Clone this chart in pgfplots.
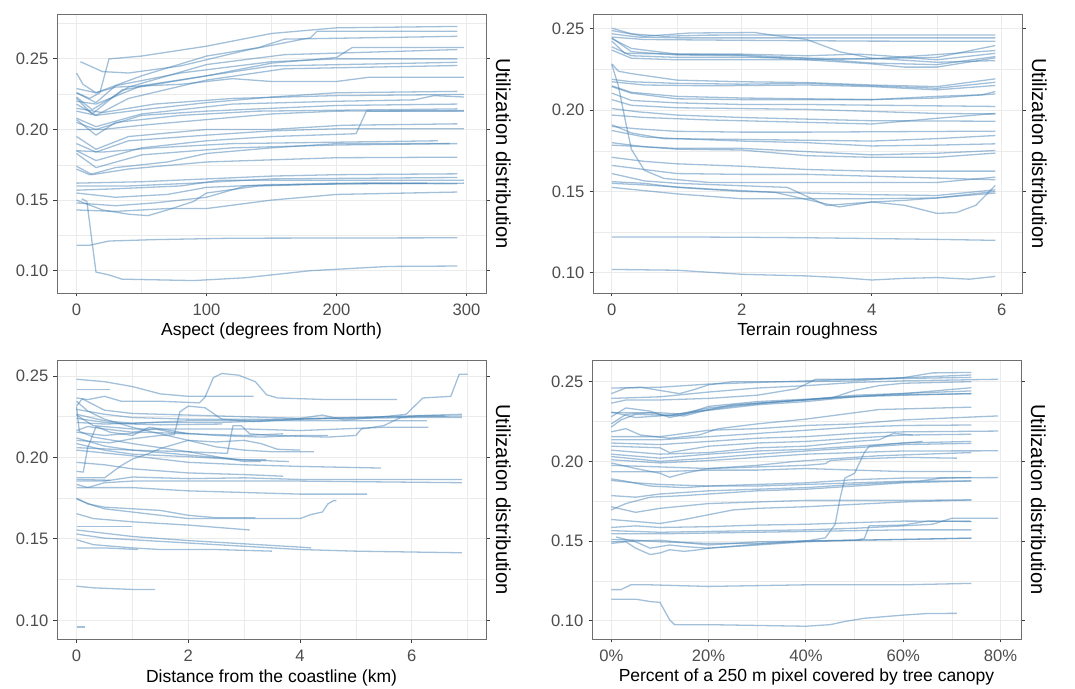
\documentclass[border=0pt]{standalone}
\usepackage{pgfplots}
\pgfplotsset{compat=1.18}
\usepackage{fontspec}
\setmainfont{Liberation Sans}
\definecolor{steel}{RGB}{70,130,180}
\definecolor{gtwenty}{RGB}{60,60,60}
\definecolor{gborder}{RGB}{110,110,110}
\definecolor{gthirty}{RGB}{77,77,77}
\definecolor{gridg}{RGB}{235,235,235}
\tikzset{ln/.style={draw=steel,line width=1.3bp,draw opacity=0.5,mark=none,line join=round}}
\pgfplotsset{panel/.style={
  scale only axis, width=429bp, height=279bp, anchor=south west,
  axis line style={draw=gborder,line width=0.9bp},
  grid=both,
  major grid style={draw=gridg,line width=0.9bp},
  minor grid style={draw=gridg,line width=0.45bp},
  tick align=outside, xtick pos=bottom, ytick pos=both,
  yticklabel pos=left,
  major tick length=3.5bp, minor tick length=0pt,
  tick style={draw=gtwenty,line width=0.9bp},
  ytick={0.10,0.15,0.20,0.25},
  yticklabels={0.10,0.15,0.20,0.25},
  ticklabel style={font=\fontsize{16.6bp}{19bp}\selectfont, text=gthirty, inner sep=0pt},
  xticklabel style={anchor=north},
  yticklabel style={anchor=east},
  xticklabel shift=7.5bp, yticklabel shift=5bp,
  every axis x label/.style={at={(axis description cs:0.5,0)}, anchor=base, yshift=-43bp, inner sep=0pt, font=\fontsize{17.5bp}{20bp}\selectfont},
  every axis y label/.style={at={(axis description cs:1,0.5)}, xshift=10bp, rotate=-90, anchor=base, inner sep=0pt, font=\fontsize{20.2bp}{23bp}\selectfont},
  ylabel={Utilization distribution},
}}
\begin{document}
\begin{tikzpicture}
\useasboundingbox (0,0) rectangle (1075bp,689bp);
% ---------------- Panel 1: Aspect
\begin{axis}[panel, at={(57bp,396bp)},
  xmin=-15, xmax=315, ymin=0.0842, ymax=0.2818,
  xtick={0,100,200,300}, xticklabels={0,100,200,300},
  minor xtick={50,150,250}, minor ytick={0.125,0.175,0.225,0.275},
  xlabel={Aspect (degrees from North)}]
\addplot[ln] coordinates {(0,0.226)(10,0.222)(18,0.226)(25,0.250)(50,0.252)(100,0.259)(150,0.268)(200,0.272)(293,0.273)};
\addplot[ln] coordinates {(3,0.248)(20,0.241)(40,0.240)(80,0.245)(130,0.256)(180,0.265)(185,0.2696)(293,0.2696)};
\addplot[ln] coordinates {(0,0.229)(15,0.226)(50,0.238)(100,0.252)(140,0.258)(160,0.264)(293,0.266)};
\addplot[ln] coordinates {(0,0.220)(15,0.218)(50,0.231)(100,0.238)(150,0.247)(200,0.251)(212,0.258)(298,0.258)};
\addplot[ln] coordinates {(0,0.223)(12,0.214)(40,0.230)(100,0.246)(160,0.253)(293,0.2566)};
\addplot[ln] coordinates {(0,0.226)(15,0.219)(30,0.231)(80,0.240)(150,0.248)(200,0.250)(293,0.250)};
\addplot[ln] coordinates {(0,0.222)(12,0.211)(35,0.228)(100,0.238)(150,0.245)(293,0.2476)};
\addplot[ln] coordinates {(0,0.218)(15,0.210)(40,0.222)(100,0.235)(160,0.243)(293,0.2453)};
\addplot[ln] coordinates {(0,0.240)(5,0.232)(15,0.226)(30,0.230)(80,0.232)(120,0.236)(150,0.234)(200,0.234)(225,0.237)(298,0.237)};
\addplot[ln] coordinates {(0,0.213)(15,0.210)(50,0.214)(100,0.219)(150,0.223)(200,0.226)(293,0.227)};
\addplot[ln] coordinates {(0,0.215)(20,0.212)(60,0.218)(120,0.222)(200,0.224)(298,0.2248)};
\addplot[ln] coordinates {(0,0.208)(15,0.202)(50,0.211)(120,0.218)(200,0.220)(260,0.221)(275,0.224)(298,0.223)};
\addplot[ln] coordinates {(0,0.205)(15,0.200)(50,0.210)(100,0.213)(200,0.217)(293,0.218)};
\addplot[ln] coordinates {(0,0.207)(15,0.196)(30,0.205)(80,0.210)(140,0.213)(293,0.2146)};
\addplot[ln] coordinates {(0,0.200)(20,0.200)(50,0.203)(100,0.207)(150,0.211)(200,0.213)(298,0.2134)};
\addplot[ln] coordinates {(0,0.195)(15,0.186)(40,0.195)(100,0.200)(150,0.200)(205,0.203)(293,0.204)};
\addplot[ln] coordinates {(0,0.190)(15,0.184)(40,0.192)(100,0.196)(150,0.199)(200,0.2005)(298,0.2005)};
\addplot[ln] coordinates {(0,0.185)(15,0.178)(50,0.187)(100,0.192)(150,0.195)(215,0.197)(223,0.213)(298,0.213)};
\addplot[ln] coordinates {(0,0.185)(20,0.184)(60,0.187)(120,0.190)(200,0.191)(278,0.192)};
\addplot[ln] coordinates {(0,0.183)(15,0.173)(50,0.182)(120,0.187)(200,0.189)(287,0.190)};
\addplot[ln] coordinates {(0,0.174)(12,0.168)(40,0.172)(100,0.177)(200,0.180)(293,0.1804)};
\addplot[ln] coordinates {(0,0.172)(10,0.168)(30,0.173)(70,0.177)(100,0.183)(150,0.187)(200,0.190)(293,0.190)};
\addplot[ln] coordinates {(0,0.162)(50,0.163)(100,0.165)(150,0.167)(200,0.168)(293,0.1686)};
\addplot[ln] coordinates {(0,0.160)(40,0.160)(90,0.162)(150,0.165)(293,0.166)};
\addplot[ln] coordinates {(0,0.157)(30,0.158)(80,0.160)(110,0.164)(200,0.164)(298,0.164)};
\addplot[ln] coordinates {(0,0.155)(30,0.152)(70,0.154)(100,0.159)(150,0.161)(298,0.162)};
\addplot[ln] coordinates {(0,0.148)(30,0.146)(60,0.148)(100,0.152)(130,0.160)(200,0.162)(293,0.1616)};
\addplot[ln] coordinates {(0,0.150)(20,0.143)(40,0.140)(55,0.139)(70,0.143)(90,0.149)(100,0.155)(140,0.160)(220,0.162)(270,0.162)};
\addplot[ln] coordinates {(0,0.143)(30,0.142)(70,0.144)(100,0.144)(150,0.150)(200,0.154)(293,0.1557)};
\addplot[ln] coordinates {(0,0.118)(10,0.118)(25,0.121)(60,0.122)(120,0.123)(293,0.1233)};
\addplot[ln] coordinates {(4,0.151)(8,0.149)(12,0.120)(15,0.099)(25,0.097)(35,0.094)(90,0.093)(130,0.095)(180,0.100)(240,0.103)(293,0.1033)};
\end{axis}
% ---------------- Panel 2: Terrain roughness
\begin{axis}[panel, at={(593bp,396bp)},
  xmin=-0.29, xmax=6.31, ymin=0.0875, ymax=0.2592,
  xtick={0,2,4,6}, xticklabels={0,2,4,6},
  minor xtick={1,3,5}, minor ytick={0.125,0.175,0.225},
  xlabel={Terrain roughness}]
\addplot[ln] coordinates {(0,0.2505)(0.3,0.247)(0.8,0.2455)(1.5,0.2462)(3,0.2463)(5.9,0.2463)};
\addplot[ln] coordinates {(0,0.249)(0.5,0.2455)(1.2,0.2475)(2.2,0.2478)(2.5,0.246)(3,0.2435)(3.5,0.236)(4,0.232)(5,0.2295)(5.9,0.2305)};
\addplot[ln] coordinates {(0,0.247)(0.4,0.245)(1,0.2445)(2,0.2445)(4,0.2445)(5.9,0.2445)};
\addplot[ln] coordinates {(0,0.245)(0.5,0.2435)(2,0.243)(4,0.2425)(5.9,0.2424)};
\addplot[ln] coordinates {(0,0.2445)(0.3,0.236)(1,0.234)(2,0.2335)(3,0.231)(4,0.2285)(4.5,0.2265)(5,0.2265)(5.9,0.2322)};
\addplot[ln] coordinates {(0,0.244)(0.3,0.238)(1,0.2345)(2,0.234)(3,0.232)(4,0.229)(5,0.228)(5.9,0.233)};
\addplot[ln] coordinates {(0,0.2425)(0.2,0.235)(1,0.2345)(2,0.2345)(3,0.2335)(3.8,0.2345)(4.2,0.2335)(5,0.231)(5.9,0.235)};
\addplot[ln] coordinates {(0,0.239)(0.3,0.2335)(1,0.2325)(2,0.2325)(4,0.2315)(5.9,0.2367)};
\addplot[ln] coordinates {(0,0.237)(0.3,0.232)(1,0.231)(3,0.231)(5,0.2325)(5.9,0.2398)};
\addplot[ln] coordinates {(0,0.2285)(0.1,0.224)(0.3,0.2225)(1,0.2185)(2,0.2175)(3,0.217)(4,0.2155)(5,0.2145)(5.9,0.2193)};
\addplot[ln] coordinates {(0,0.219)(0.3,0.2175)(1,0.2165)(2,0.216)(3,0.2165)(4,0.215)(5,0.2135)(5.9,0.2172)};
\addplot[ln] coordinates {(0,0.2175)(0.5,0.2155)(1.5,0.215)(3,0.2155)(4,0.2145)(5,0.2125)(5.9,0.2152)};
\addplot[ln] coordinates {(0,0.215)(0.3,0.211)(1,0.2085)(2,0.2075)(3,0.207)(4,0.2065)(5,0.2075)(5.9,0.210)};
\addplot[ln] coordinates {(0,0.2145)(0.3,0.2105)(1,0.207)(2,0.2065)(3,0.2065)(4,0.2065)(5,0.2085)(5.7,0.2095)(5.9,0.2115)};
\addplot[ln] coordinates {(0,0.2105)(0.3,0.206)(1,0.2045)(2,0.2035)(3,0.2035)(5.9,0.2023)};
\addplot[ln] coordinates {(0,0.2065)(0.3,0.203)(1,0.2015)(3,0.2005)(5,0.198)(5.9,0.1977)};
\addplot[ln] coordinates {(0,0.201)(0.4,0.199)(1,0.197)(2,0.1955)(3,0.1945)(4,0.1935)(5.9,0.1932)};
\addplot[ln] coordinates {(0,0.197)(0.5,0.1955)(1.5,0.194)(3,0.1925)(4,0.1915)(5,0.195)(5.9,0.198)};
\addplot[ln] coordinates {(0,0.190)(0.4,0.1885)(1,0.187)(2,0.1865)(3,0.1865)(5.9,0.1871)};
\addplot[ln] coordinates {(0,0.191)(0.3,0.186)(0.8,0.1825)(2,0.182)(3,0.1815)(4,0.181)(5,0.1825)(5.9,0.1844)};
\addplot[ln] coordinates {(0,0.1875)(0.5,0.1835)(1,0.1825)(2,0.181)(3,0.18)(4,0.178)(5,0.1785)(5.9,0.1793)};
\addplot[ln] coordinates {(0,0.1785)(0.5,0.1775)(1,0.1765)(2,0.1765)(3,0.1745)(4,0.1725)(5,0.1735)(5.9,0.1752)};
\addplot[ln] coordinates {(0,0.180)(0.5,0.1775)(1,0.176)(2,0.1755)(3,0.172)(4,0.171)(5,0.171)(5.9,0.1736)};
\addplot[ln] coordinates {(0,0.228)(0.1,0.215)(0.2,0.195)(0.3,0.176)(0.5,0.163)(0.8,0.158)(1.5,0.1555)(3,0.1555)(4,0.1555)(5,0.1555)(5.9,0.1588)};
\addplot[ln] coordinates {(0,0.171)(0.5,0.1685)(1,0.167)(2,0.1655)(3,0.1635)(4,0.1625)(5.9,0.1625)};
\addplot[ln] coordinates {(0,0.166)(0.5,0.1635)(1,0.161)(2,0.1605)(3,0.1605)(5.9,0.1572)};
\addplot[ln] coordinates {(0,0.161)(0.5,0.1565)(1,0.155)(2,0.1535)(2.7,0.1525)(3.3,0.1414)(4,0.1435)(4.5,0.1415)(5,0.1365)(5.3,0.137)(5.6,0.1415)(5.9,0.1537)};
\addplot[ln] coordinates {(0,0.156)(0.5,0.155)(1,0.1525)(2,0.150)(3,0.149)(4,0.148)(5,0.1475)(5.9,0.151)};
\addplot[ln] coordinates {(0,0.1525)(0.5,0.1505)(1,0.1485)(2,0.1455)(3,0.1455)(4,0.1455)(5,0.146)(5.9,0.149)};
\addplot[ln] coordinates {(0,0.155)(0.5,0.154)(1.5,0.1515)(2.5,0.1495)(3.5,0.1405)(4,0.1435)(4.5,0.1445)(5,0.146)(5.9,0.150)};
\addplot[ln] coordinates {(0,0.122)(1,0.122)(2,0.1218)(3,0.1215)(4,0.121)(5,0.1205)(5.9,0.1199)};
\addplot[ln] coordinates {(0,0.102)(1,0.1015)(2,0.099)(3,0.098)(3.5,0.097)(4,0.0955)(4.5,0.0965)(5,0.097)(5.5,0.096)(5.9,0.0977)};
\end{axis}
% ---------------- Panel 3: Distance from coastline
\begin{axis}[panel, at={(57bp,50bp)},
  xmin=-0.35, xmax=7.33, ymin=0.0886, ymax=0.2598,
  xtick={0,2,4,6}, xticklabels={0,2,4,6},
  minor xtick={1,3,5,7}, minor ytick={0.125,0.175,0.225},
  xlabel={Distance from the coastline (km)}]
\addplot[ln] coordinates {(0,0.248)(0.5,0.2465)(1,0.2435)(1.5,0.239)(2,0.2375)(3.17,0.2375)};
\addplot[ln] coordinates {(0,0.2415)(0.6,0.2415)};
\addplot[ln] coordinates {(0,0.2365)(0.2,0.2355)(0.5,0.2375)(0.8,0.2345)(1.5,0.2345)(2.2,0.2335)(2.3,0.237)(2.45,0.249)(2.6,0.2515)(2.9,0.2505)(3.2,0.2465)(3.4,0.2385)(3.6,0.2365)(4.5,0.2355)(5.74,0.2355)};
\addplot[ln] coordinates {(0,0.2315)(0.1,0.236)(0.5,0.229)(1,0.227)(2,0.226)(3,0.225)(4,0.224)(4.4,0.226)(4.8,0.223)(5.5,0.225)(5.9,0.2265)(6.2,0.2365)(6.7,0.2375)(6.85,0.251)(7.0,0.251)};
\addplot[ln] coordinates {(0,0.2295)(0.5,0.2265)(1,0.2245)(2,0.2235)(3.5,0.2235)(5,0.2245)(6.9,0.2255)};
\addplot[ln] coordinates {(0,0.2265)(0.5,0.2225)(1,0.221)(2,0.2225)(3,0.2225)(4,0.2235)(6.9,0.2265)};
\addplot[ln] coordinates {(0,0.224)(0.5,0.2215)(1,0.2205)(1.5,0.22)(2.6,0.2205)};
\addplot[ln] coordinates {(0,0.2215)(0.5,0.2205)(1.5,0.2215)(2.6,0.2215)(3.5,0.2225)(4.5,0.2225)(6.27,0.2225)};
\addplot[ln] coordinates {(0,0.226)(0.3,0.2195)(1,0.2175)(2,0.2175)(3,0.2175)(4,0.2165)(5.5,0.2185)(6.3,0.2185)};
\addplot[ln] coordinates {(0,0.2165)(0.2,0.219)(0.5,0.2175)(1,0.2155)(1.4,0.2175)(1.7,0.2155)(2.5,0.2135)(3.3,0.2125)(4,0.2135)(4.5,0.2135)};
\addplot[ln] coordinates {(0,0.2155)(0.5,0.2135)(1.2,0.2155)(2,0.2145)(3,0.2135)(3.7,0.2145)};
\addplot[ln] coordinates {(0,0.2105)(0.6,0.209)(1.0,0.2115)(1.5,0.2135)(1.75,0.214)(1.85,0.228)(2.0,0.2315)(2.3,0.2305)(2.6,0.2235)(3.2,0.222)(4,0.2235)(6.0,0.2245)(6.9,0.2245)};
\addplot[ln] coordinates {(0,0.206)(1,0.2045)(2,0.2035)(2.7,0.2025)(2.8,0.2195)(2.95,0.2195)(3.1,0.2145)(3.5,0.2135)(4.5,0.2125)(5,0.2135)(5.1,0.2175)(5.5,0.2195)(5.8,0.2245)(6.1,0.2255)(6.6,0.2255)};
\addplot[ln] coordinates {(0,0.2345)(0.2,0.2285)(0.5,0.2235)(1,0.2185)(1.5,0.2145)(2,0.2105)(2.5,0.2065)(3,0.2045)(3.5,0.2035)(4.25,0.2035)};
\addplot[ln] coordinates {(0,0.231)(0.05,0.216)(0.3,0.2125)(1,0.2085)(2,0.2035)(2.5,0.2005)(3,0.1975)(3.3,0.1975)};
\addplot[ln] coordinates {(0,0.212)(0.5,0.207)(1,0.2045)(2,0.2015)(3,0.1985)(3.4,0.1985)};
\addplot[ln] coordinates {(0,0.2085)(0.5,0.2045)(1,0.202)(2,0.2005)(3,0.1985)(3.8,0.1975)};
\addplot[ln] coordinates {(0,0.2045)(1,0.201)(2,0.197)(3,0.1955)(4,0.1945)(5.45,0.1935)};
\addplot[ln] coordinates {(0,0.197)(0.5,0.1955)(1,0.193)(2,0.1905)(3,0.1895)(3.7,0.1885)};
\addplot[ln] coordinates {(0,0.1915)(0.12,0.191)(0.2,0.206)(0.35,0.219)(0.6,0.2155)(1.0,0.2135)(1.3,0.2185)(1.7,0.2165)(2.0,0.2145)};
\addplot[ln] coordinates {(0,0.1875)(0.5,0.1875)(0.8,0.195)(1.0,0.199)(1.3,0.2025)(1.5,0.2055)(2,0.2105)(2.5,0.2095)(3.0,0.2105)(3.3,0.2085)(3.6,0.205)(4.0,0.2045)};
\addplot[ln] coordinates {(0,0.1865)(0.6,0.186)};
\addplot[ln] coordinates {(0,0.1855)(0.5,0.1855)(1,0.188)(2,0.187)(3,0.1875)(4,0.1865)(5,0.1865)(6.9,0.1865)};
\addplot[ln] coordinates {(0,0.1835)(0.2,0.1815)(0.5,0.1845)(1,0.1855)(2,0.1855)(3,0.1855)(4,0.1855)(6.9,0.1845)};
\addplot[ln] coordinates {(0,0.1815)(0.5,0.1815)(1,0.1815)(2,0.1795)(3,0.1785)(4,0.1775)(5.2,0.1775)};
\addplot[ln] coordinates {(0,0.175)(0.2,0.1715)(0.5,0.1695)(1,0.1685)(1.5,0.1675)(2,0.1645)(2.5,0.163)(3.2,0.163)};
\addplot[ln] coordinates {(0,0.1745)(0.3,0.1705)(0.5,0.1685)(1,0.1665)(1.5,0.1645)(2,0.1625)(3,0.1625)(4,0.1625)(4.2,0.165)(4.4,0.1665)(4.5,0.1715)(4.6,0.1735)(4.65,0.1735)};
\addplot[ln] coordinates {(0,0.1655)(0.3,0.1625)(1,0.1605)(2,0.1585)(3.1,0.1555)};
\addplot[ln] coordinates {(0,0.1575)(0.5,0.1575)(1,0.1575)};
\addplot[ln] coordinates {(0,0.1555)(0.5,0.1535)(1,0.1515)(2,0.149)(3,0.147)(4,0.145)(4.2,0.1445)};
\addplot[ln] coordinates {(0,0.153)(0.5,0.1505)(1,0.1495)(2,0.1475)(3,0.1455)(4,0.1435)(5,0.1425)(6.9,0.1415)};
\addplot[ln] coordinates {(0,0.1495)(0.3,0.1465)(1,0.1445)(1.5,0.1435)(2.5,0.1435)(3.5,0.1425)};
\addplot[ln] coordinates {(0,0.1445)(0.5,0.1445)(1.1,0.1435)};
\addplot[ln] coordinates {(0,0.121)(0.3,0.120)(1,0.119)(1.4,0.119)};
\addplot[ln] coordinates {(0,0.096)(0.15,0.096)};
\end{axis}
% ---------------- Panel 4: Tree canopy
\begin{axis}[panel, at={(592bp,50bp)},
  xmin=-3.96, xmax=84.2, ymin=0.0885, ymax=0.2636,
  xtick={0,20,40,60,80}, xticklabels={0\%,20\%,40\%,60\%,80\%},
  minor xtick={10,30,50,70}, minor ytick={0.125,0.175,0.225},
  xlabel={Percent of a 250 m pixel covered by tree canopy}]
\addplot[ln] coordinates {(0,0.2425)(3,0.246)(6,0.2465)(10,0.2445)(14,0.2425)(17,0.245)(20,0.248)(25,0.250)(30,0.250)(40,0.250)(50,0.2505)(60,0.2525)(66,0.2555)(74,0.2558)};
\addplot[ln] coordinates {(0,0.246)(10,0.2465)(20,0.2485)(30,0.2495)(40,0.2505)(50,0.2515)(60,0.2525)(74,0.2542)};
\addplot[ln] coordinates {(0,0.2365)(3,0.2385)(10,0.2385)(20,0.2395)(30,0.2415)(38,0.2455)(42,0.2515)(50,0.2515)(60,0.252)(74,0.2527)};
\addplot[ln] coordinates {(0,0.2395)(10,0.2405)(20,0.2435)(30,0.246)(40,0.2475)(50,0.2495)(60,0.2505)(79.5,0.2515)};
\addplot[ln] coordinates {(0,0.2215)(2,0.226)(5,0.2295)(10,0.229)(15,0.2285)(20,0.2325)(25,0.2355)(35,0.2375)(45,0.2395)(50,0.2445)(55,0.2475)(60,0.249)(74,0.250)};
\addplot[ln] coordinates {(0,0.228)(3,0.2335)(8,0.2315)(12,0.2275)(18,0.2315)(25,0.2345)(35,0.2375)(45,0.240)(55,0.2415)(74,0.2425)};
\addplot[ln] coordinates {(0,0.2235)(3,0.2295)(8,0.2305)(12,0.2285)(20,0.2335)(30,0.2365)(40,0.2385)(50,0.2415)(74,0.2442)};
\addplot[ln] coordinates {(0,0.2305)(5,0.2305)(10,0.2305)(15,0.2295)(20,0.2345)(30,0.2375)(40,0.239)(50,0.2405)(60,0.2425)(74,0.2462)};
\addplot[ln] coordinates {(0,0.231)(5,0.2275)(10,0.2285)(20,0.232)(30,0.2355)(40,0.2375)(50,0.2405)(60,0.2415)(74,0.2425)};
\addplot[ln] coordinates {(0,0.2185)(3,0.2205)(6,0.2165)(12,0.2145)(18,0.2165)(22,0.2205)(30,0.2235)(40,0.2265)(50,0.2305)(55,0.2325)(74,0.234)};
\addplot[ln] coordinates {(0,0.2155)(10,0.2155)(20,0.2195)(30,0.2205)(40,0.2225)(50,0.2235)(60,0.226)(79.5,0.2285)};
\addplot[ln] coordinates {(0,0.2135)(10,0.2135)(20,0.2155)(30,0.2175)(40,0.2195)(50,0.2215)(60,0.2225)(74,0.2228)};
\addplot[ln] coordinates {(0,0.2115)(10,0.2105)(20,0.2125)(30,0.2145)(40,0.2155)(50,0.2175)(60,0.2185)(79.5,0.219)};
\addplot[ln] coordinates {(0,0.2095)(10,0.2085)(12,0.2055)(20,0.2095)(30,0.2115)(40,0.2125)(50,0.2145)(60,0.2165)(74,0.217)};
\addplot[ln] coordinates {(0,0.207)(10,0.2045)(20,0.2055)(30,0.2085)(40,0.2095)(50,0.2125)(55,0.2135)(58,0.2175)(62,0.2165)};
\addplot[ln] coordinates {(0,0.2045)(10,0.202)(20,0.2045)(30,0.2065)(40,0.2075)(50,0.2095)(60,0.2115)(74,0.2125)};
\addplot[ln] coordinates {(0,0.203)(10,0.200)(20,0.202)(30,0.2045)(40,0.2065)(50,0.2085)(60,0.2105)(74,0.2113)};
\addplot[ln] coordinates {(0,0.201)(10,0.199)(20,0.2005)(30,0.2025)(40,0.2045)(50,0.2055)(60,0.2065)(79.5,0.2066)};
\addplot[ln] coordinates {(0,0.199)(5,0.1955)(10,0.1925)(12,0.190)(15,0.1925)(20,0.1955)(30,0.1975)(38,0.200)(45,0.2015)(55,0.2035)(74,0.2055)};
\addplot[ln] coordinates {(0,0.1975)(10,0.1965)(20,0.1955)(30,0.1965)(40,0.1975)(44,0.1985)(45,0.2005)(50,0.2015)(60,0.2025)(71,0.202)};
\addplot[ln] coordinates {(0,0.1935)(10,0.1935)(20,0.1945)(30,0.1945)(40,0.1955)(50,0.1945)(60,0.1936)(74,0.1936)};
\addplot[ln] coordinates {(0,0.189)(3,0.1875)(8,0.1845)(15,0.1835)(20,0.1845)(30,0.1855)(40,0.1865)(50,0.1885)(60,0.1895)(79.5,0.1898)};
\addplot[ln] coordinates {(0,0.188)(5,0.1865)(10,0.1855)(20,0.1845)(30,0.1845)(40,0.1855)(50,0.1865)(60,0.1875)(74,0.1877)};
\addplot[ln] coordinates {(0,0.1785)(5,0.1775)(10,0.1795)(20,0.1815)(30,0.1825)(40,0.1835)(50,0.1855)(63,0.1875)(68,0.1895)(74,0.1898)};
\addplot[ln] coordinates {(0,0.1695)(3,0.1735)(8,0.1775)(15,0.1785)(20,0.1795)(30,0.1815)(40,0.1825)(50,0.1845)(60,0.1865)(74,0.1877)};
\addplot[ln] coordinates {(0,0.1715)(5,0.168)(10,0.1705)(20,0.1735)(30,0.1745)(40,0.1755)(60,0.1755)(74,0.1758)};
\addplot[ln] coordinates {(0,0.1635)(10,0.161)(15,0.1635)(20,0.1665)(25,0.1695)(30,0.1705)(40,0.1715)(60,0.1745)(74,0.1758)};
\addplot[ln] coordinates {(0,0.1585)(5,0.1595)(10,0.1585)(20,0.159)(30,0.160)(40,0.1605)(50,0.1615)(60,0.1625)(74,0.1623)};
\addplot[ln] coordinates {(0,0.1565)(10,0.1555)(20,0.156)(30,0.1565)(40,0.157)(50,0.158)(60,0.1595)(66,0.1605)(70,0.1643)(79.5,0.1643)};
\addplot[ln] coordinates {(0,0.1545)(10,0.1545)(20,0.155)(30,0.1555)(40,0.156)(60,0.157)(74,0.157)};
\addplot[ln] coordinates {(0,0.151)(5,0.1505)(10,0.1495)(20,0.1485)(30,0.1485)(40,0.150)(44,0.152)(46,0.1605)(47,0.1765)(48,0.1895)(50,0.1925)(52,0.2055)(53,0.2095)(56,0.2105)(60,0.2115)(64,0.2125)};
\addplot[ln] coordinates {(0,0.1495)(5,0.150)(10,0.1505)(20,0.1475)(30,0.1495)(40,0.150)(50,0.1505)(52,0.1515)(53,0.1595)(60,0.160)(65,0.1625)(74,0.1623)};
\addplot[ln] coordinates {(0,0.1485)(3,0.1495)(5,0.1455)(8,0.1415)(10,0.1425)(12,0.1445)(15,0.1435)(18,0.1445)(20,0.1455)(30,0.1475)(40,0.1495)(50,0.1505)(60,0.151)(74,0.1518)};
\addplot[ln] coordinates {(1,0.1525)(5,0.1495)(8,0.1455)(12,0.1475)(15,0.1465)(20,0.1455)(30,0.148)(40,0.150)(60,0.151)(74,0.1518)};
\addplot[ln] coordinates {(0,0.1195)(2,0.1195)(4,0.1225)(8,0.1225)(20,0.1215)(40,0.1225)(60,0.1225)(74,0.1234)};
\addplot[ln] coordinates {(0,0.1135)(5,0.1135)(8,0.112)(10,0.1115)(11,0.106)(12,0.1005)(13,0.0975)(20,0.0975)(40,0.0965)(45,0.0975)(48,0.0995)(52,0.1015)(60,0.1035)(65,0.1045)(71,0.1046)};
\end{axis}
\end{tikzpicture}
\end{document}
